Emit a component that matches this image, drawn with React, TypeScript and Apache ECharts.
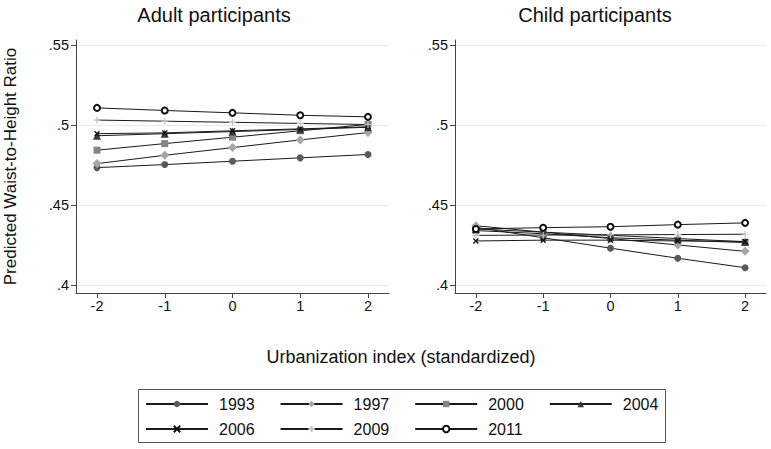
import React, { useEffect, useRef } from 'react';
import * as echarts from 'echarts';

const urbanization = [-2, -1, 0, 1, 2];
const years = ['1993', '1997', '2000', '2004', '2006', '2009', '2011'];

const adult1993 = [0.4733, 0.4752, 0.4773, 0.4794, 0.4815];
const adult1997 = [0.4758, 0.481, 0.4858, 0.4906, 0.4952];
const adult2000 = [0.4842, 0.4883, 0.4923, 0.4963, 0.5003];
const adult2004 = [0.4932, 0.4945, 0.4958, 0.4971, 0.4985];
const adult2006 = [0.4945, 0.495, 0.4963, 0.4975, 0.4988];
const adult2009 = [0.503, 0.5023, 0.5016, 0.5009, 0.5002];
const adult2011 = [0.5106, 0.509, 0.5075, 0.506, 0.505];

const child1993 = [0.436, 0.4295, 0.423, 0.4167, 0.4108];
const child1997 = [0.437, 0.433, 0.429, 0.425, 0.421];
const child2000 = [0.434, 0.432, 0.4295, 0.428, 0.4265];
const child2004 = [0.435, 0.433, 0.431, 0.429, 0.427];
const child2006 = [0.4275, 0.428, 0.428, 0.4275, 0.4272];
const child2009 = [0.431, 0.4312, 0.4313, 0.4315, 0.4317];
const child2011 = [0.435, 0.4358, 0.4364, 0.4377, 0.4388];

const adultValues = [adult1993, adult1997, adult2000, adult2004, adult2006, adult2009, adult2011];
const childValues = [child1993, child1997, child2000, child2004, child2006, child2009, child2011];

const xTicks = [-2, -1, 0, 1, 2];
const yTicks = [0.4, 0.45, 0.5, 0.55];

const FONT = 'Liberation Sans, Arial, sans-serif';

const markerStyles: any[] = [
  { symbol: 'circle', symbolSize: 7, itemStyle: { color: '#5a5a5a' } },
  { symbol: 'diamond', symbolSize: 9, itemStyle: { color: '#a6a6a6' } },
  { symbol: 'rect', symbolSize: 7, itemStyle: { color: '#858585' } },
  { symbol: 'triangle', symbolSize: 8, itemStyle: { color: '#3a3a3a' } },
  {
    symbol: 'path://M0,0L10,10M10,0L0,10',
    symbolSize: 5,
    itemStyle: { color: 'none', borderColor: '#111', borderWidth: 1.4 },
  },
  {
    symbol: 'path://M5,0L5,10M0,5L10,5',
    symbolSize: 7,
    itemStyle: { color: 'none', borderColor: '#c4c4c4', borderWidth: 1.2 },
  },
  { symbol: 'emptyCircle', symbolSize: 6, itemStyle: { color: '#111', borderWidth: 1 } },
];

function buildOption() {
  const xAxisBase = (gridIndex: number) => ({
    type: 'value',
    gridIndex,
    min: -2.31,
    max: 2.31,
    axisLine: { show: true, onZero: false, lineStyle: { color: '#444', width: 1 } },
    axisTick: { show: true, customValues: xTicks, length: 5, lineStyle: { color: '#444' } },
    axisLabel: {
      customValues: xTicks,
      fontSize: 14.5,
      color: '#111',
      fontFamily: FONT,
      margin: 5,
    },
    splitLine: { show: false },
  });
  const yAxisBase = (gridIndex: number) => ({
    type: 'value',
    gridIndex,
    min: 0.395,
    max: 0.553,
    axisLine: { show: true, onZero: false, lineStyle: { color: '#444', width: 1 } },
    axisTick: { show: true, customValues: yTicks, length: 5, lineStyle: { color: '#444' } },
    axisLabel: {
      customValues: yTicks,
      fontSize: 14.5,
      color: '#111',
      fontFamily: FONT,
      margin: 7,
      formatter: (v: number) => String(Number(v.toFixed(3))).replace(/^0/, ''),
    },
    splitLine: { show: true, lineStyle: { color: '#ebebeb', width: 1 } },
  });

  const series: any[] = [];
  years.forEach((year, i) => {
    [adultValues, childValues].forEach((vals, panel) => {
      series.push({
        type: 'line',
        name: year,
        xAxisIndex: panel,
        yAxisIndex: panel,
        data: urbanization.map((x, j) => [x, vals[i][j]]),
        ...markerStyles[i],
        showSymbol: true,
        lineStyle: { color: '#1a1a1a', width: 1 },
        emphasis: { disabled: true },
        z: 2 + i,
      });
    });
  });

  const legendBase = {
    left: 145,
    itemWidth: 62,
    itemHeight: 8,
    itemGap: 25,
    padding: 0,
    selectedMode: false,
    textStyle: { fontSize: 16, color: '#111', fontFamily: FONT, padding: [0, 0, 0, 6] },
  };

  return {
    animation: false,
    backgroundColor: '#fff',
    grid: [
      { left: 76, top: 40, width: 313, height: 253 },
      { left: 455, top: 40, width: 311, height: 253 },
    ],
    xAxis: [xAxisBase(0), xAxisBase(1)],
    yAxis: [
      {
        ...yAxisBase(0),
        name: 'Predicted Waist-to-Height Ratio',
        nameLocation: 'middle',
        nameGap: 57,
        nameRotate: 90,
        nameTextStyle: { fontSize: 17, color: '#111', fontFamily: FONT },
      },
      yAxisBase(1),
    ],
    legend: [
      { ...legendBase, top: 396, data: years.slice(0, 4) },
      { ...legendBase, top: 421, data: years.slice(4) },
    ],
    graphic: [
      {
        type: 'text',
        x: 214,
        y: 15,
        style: {
          text: 'Adult participants',
          align: 'center',
          verticalAlign: 'middle',
          fontSize: 20,
          fontFamily: FONT,
          fill: '#111',
        },
      },
      {
        type: 'text',
        x: 595,
        y: 15,
        style: {
          text: 'Child participants',
          align: 'center',
          verticalAlign: 'middle',
          fontSize: 20,
          fontFamily: FONT,
          fill: '#111',
        },
      },
      {
        type: 'text',
        x: 401,
        y: 357,
        style: {
          text: 'Urbanization index (standardized)',
          align: 'center',
          verticalAlign: 'middle',
          fontSize: 18,
          fontFamily: FONT,
          fill: '#111',
        },
      },
      {
        type: 'rect',
        shape: { x: 138.5, y: 389.5, width: 527, height: 53 },
        style: { fill: 'none', stroke: '#555', lineWidth: 1 },
        silent: true,
      },
    ],
    series,
  };
}

export default function App() {
  const ref = useRef<HTMLDivElement>(null);
  useEffect(() => {
    if (!ref.current) return;
    const chart = echarts.init(ref.current, null, { renderer: 'svg' });
    chart.setOption(buildOption() as any);
    return () => chart.dispose();
  }, []);
  return (
    <div
      ref={ref}
      style={{ position: 'absolute', left: 0, top: 0, width: 771, height: 449 }}
    />
  );
}
